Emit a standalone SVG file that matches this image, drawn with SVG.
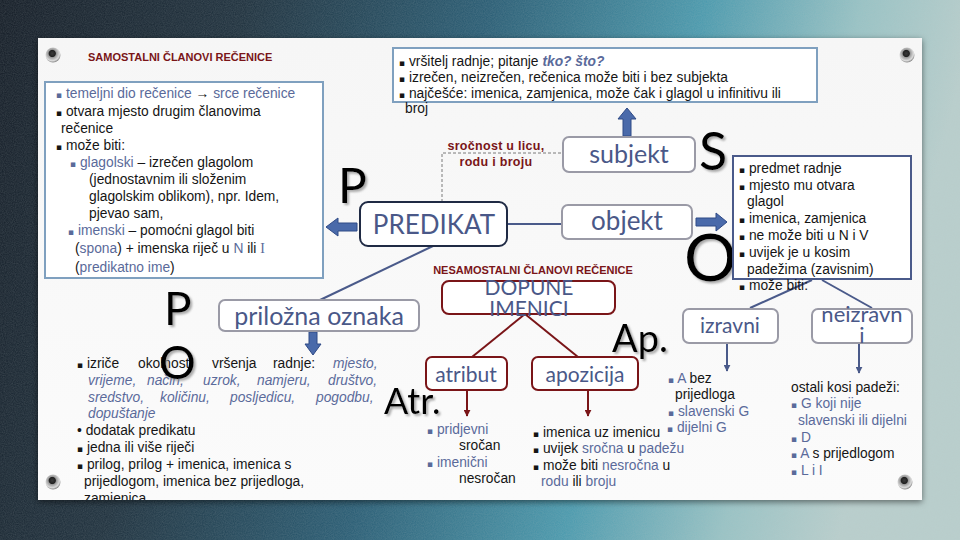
<svg xmlns="http://www.w3.org/2000/svg" width="960" height="540" viewBox="0 0 960 540">
<defs>
<linearGradient id="bg" x1="0" y1="0" x2="1" y2="0.15">
<stop offset="0" stop-color="#121a24"/>
<stop offset="0.25" stop-color="#1d2f3c"/>
<stop offset="0.5" stop-color="#285c74"/>
<stop offset="0.72" stop-color="#4a9aae"/>
<stop offset="0.88" stop-color="#98c3c5"/>
<stop offset="1" stop-color="#b9cfcd"/>
</linearGradient>
<linearGradient id="panel" x1="0" y1="0" x2="0" y2="1">
<stop offset="0" stop-color="#f6f6f6"/>
<stop offset="1" stop-color="#fbfbfb"/>
</linearGradient>
<radialGradient id="pin" cx="0.45" cy="0.4" r="0.6">
<stop offset="0" stop-color="#3a3a3a"/>
<stop offset="0.35" stop-color="#222"/>
<stop offset="0.45" stop-color="#9a9a9a"/>
<stop offset="0.8" stop-color="#dcdcdc"/>
<stop offset="1" stop-color="#888"/>
</radialGradient>
<filter id="tex" x="0" y="0" width="100%" height="100%">
<feTurbulence type="fractalNoise" baseFrequency="0.9" numOctaves="2" seed="3"/>
<feColorMatrix type="matrix" values="0 0 0 0 0.5  0 0 0 0 0.55  0 0 0 0 0.55  0 0 0 0.35 0"/>
</filter>
<filter id="sh" x="-10%" y="-10%" width="130%" height="130%">
<feDropShadow dx="2" dy="2" stdDeviation="1" flood-color="#888" flood-opacity="0.7"/>
</filter>
<filter id="psh" x="-5%" y="-5%" width="110%" height="110%">
<feDropShadow dx="0" dy="2" stdDeviation="3" flood-color="#000" flood-opacity="0.5"/>
</filter>
<clipPath id="pc"><rect x="38" y="38" width="884" height="462"/></clipPath>
<marker id="ab" viewBox="0 0 10 10" refX="9" refY="5" markerWidth="7" markerHeight="7" markerUnits="userSpaceOnUse" orient="auto"><path d="M0,0 L10,5 L0,10 z" fill="#4a5a8a"/></marker>
<marker id="ar" viewBox="0 0 10 10" refX="9" refY="5" markerWidth="7" markerHeight="7" markerUnits="userSpaceOnUse" orient="auto"><path d="M0,0 L10,5 L0,10 z" fill="#7a1518"/></marker>
<style>
text { font-family: Lato, "Liberation Sans", "DejaVu Sans", sans-serif; }
.t, .s { font-family: "Liberation Sans", Arial, "DejaVu Sans", sans-serif; font-size: 13.8px; fill: #151515; }
.bu { font-size: 9px; font-family: "DejaVu Sans", sans-serif; }
.bl { fill: #5a6a9a; }
.it { font-style: italic; fill: #5a6a9a; }
.hd { font-family: "Liberation Sans", Arial, sans-serif; font-weight: bold; font-size: 11px; fill: #7a1518; }
.sr { font-family: "Liberation Sans", Arial, sans-serif; font-weight: bold; font-size: 12.5px; letter-spacing: 0.3px; fill: #7a1518; }
.lb { fill: #4a5888; text-anchor: middle; }
.big { fill: #000; filter: url(#sh); }
.bx { fill: #fff; stroke: #9a9aa6; stroke-width: 2; }
.bxr { fill: #fff; stroke: #7a1518; stroke-width: 2; }
.ba { fill: #4a6aaa; stroke: #2f4a86; stroke-width: 1; }
.ln { stroke: #4a5a8a; stroke-width: 2; fill: none; }
.lr { stroke: #7a1518; stroke-width: 2; fill: none; }
</style>
</defs>

<rect width="960" height="540" fill="url(#bg)"/>
<rect width="960" height="540" filter="url(#tex)" opacity="0.6"/>
<rect x="38" y="38" width="884" height="462" fill="url(#panel)" filter="url(#psh)"/>
<g id="pins">
<circle cx="53" cy="55" r="7.5" fill="url(#pin)"/>
<circle cx="907" cy="55" r="7.5" fill="url(#pin)"/>
<circle cx="53" cy="482" r="7.5" fill="url(#pin)"/>
<circle cx="905" cy="482" r="7.5" fill="url(#pin)"/>
</g>

<text class="hd" x="88" y="61">SAMOSTALNI ČLANOVI REČENICE</text>
<text class="hd" x="533" y="274" text-anchor="middle">NESAMOSTALNI ČLANOVI REČENICE</text>

<g id="connectors">
<path d="M442,202 V153 H563" stroke="#7a7a7a" stroke-width="1" stroke-dasharray="3,2" fill="none"/>
<line class="ln" x1="507" y1="224" x2="562" y2="224"/>
<line class="ln" x1="433" y1="246" x2="320" y2="300" stroke-width="1.5"/>
<line class="ln" x1="812" y1="280" x2="750" y2="308"/>
<line class="ln" x1="822" y1="280" x2="872" y2="308"/>
<line class="ln" x1="727" y1="343" x2="727" y2="371" marker-end="url(#ab)"/>
<line class="ln" x1="859" y1="343" x2="859" y2="373" marker-end="url(#ab)"/>
<line class="lr" x1="525" y1="314" x2="472" y2="357"/>
<line class="lr" x1="525" y1="314" x2="578" y2="357"/>
<line class="lr" x1="467" y1="390" x2="467" y2="416" marker-end="url(#ar)"/>
<line class="lr" x1="588" y1="390" x2="588" y2="416" marker-end="url(#ar)"/>
<polygon class="ba" points="326,227 338,218 338,223 357,223 357,231 338,231 338,236"/>
<polygon class="ba" points="627,108 618,119 623,119 623,136 631,136 631,119 636,119"/>
<polygon class="ba" points="696,218 716,218 716,213 727,222 716,231 716,226 696,226"/>
<polygon class="ba" points="309,332 317,332 317,344 321,344 313,355 305,344 309,344"/>
</g>

<g id="predikat-info">
<rect x="45" y="82" width="278" height="196" fill="#fff" stroke="#7fa0bf" stroke-width="2"/>
<text class="t" x="56" y="98"><tspan class="bu bl">▪</tspan><tspan class="bl"> temeljni dio rečenice </tspan>→<tspan class="bl"> srce rečenice</tspan></text>
<text class="t" x="56" y="116"><tspan class="bu">▪</tspan> otvara mjesto drugim članovima</text>
<text class="t" x="61" y="133">rečenice</text>
<text class="t" x="56" y="150"><tspan class="bu">▪</tspan> može biti:</text>
<text class="t" x="70" y="167"><tspan class="bu bl">▪</tspan><tspan class="bl"> glagolski</tspan> – izrečen glagolom</text>
<text class="t" x="89" y="184">(jednostavnim ili složenim</text>
<text class="t" x="89" y="201">glagolskim oblikom), npr. Idem,</text>
<text class="t" x="89" y="218">pjevao sam,</text>
<text class="t" x="68" y="235"><tspan class="bu bl">▪</tspan><tspan class="bl"> imenski</tspan> – pomoćni glagol biti</text>
<text class="t" x="75" y="253">(<tspan class="bl">spona</tspan>) + imenska riječ u <tspan class="bl">N</tspan> ili <tspan class="bl" font-family="Liberation Serif, serif">I</tspan></text>
<text class="t" x="75" y="272">(<tspan class="bl">predikatno  ime</tspan>)</text>
</g>

<g id="subjekt-info">
<rect x="393" y="48" width="424" height="54" fill="#fff" stroke="#7fa0bf" stroke-width="2"/>
<text class="s" x="399" y="66"><tspan class="bu">▪</tspan> vršitelj radnje; pitanje <tspan class="bl" font-weight="bold" font-style="italic">tko? što?</tspan></text>
<text class="s" x="399" y="82"><tspan class="bu">▪</tspan> izrečen, neizrečen, rečenica može biti i bez subjekta</text>
<text class="s" x="399" y="98"><tspan class="bu">▪</tspan> najčešće: imenica, zamjenica, može čak i glagol u infinitivu ili</text>
<text class="s" x="405" y="113">broj</text>
</g>

<g id="predikat">
<rect x="360" y="202" width="147" height="44" rx="8" fill="#fff" stroke="#1f2a44" stroke-width="2"/>
<text class="lb" x="434" y="234" font-size="26">PREDIKAT</text>
<text class="big" x="338" y="203" font-size="48">P</text>
</g>
<g id="srocnost">
<text class="sr" x="496" y="150" text-anchor="middle">sročnost u licu,</text>
<text class="sr" x="496" y="166" text-anchor="middle">rodu i broju</text>
</g>

<g id="subjekt">
<rect class="bx" x="563" y="137" width="132" height="35" rx="6"/>
<text class="lb" x="629" y="163" font-size="25">subjekt</text>
<text class="big" x="699" y="170" font-size="52">S</text>
</g>

<g id="objekt">
<rect class="bx" x="562" y="205" width="130" height="34" rx="6"/>
<text class="lb" x="627" y="230" font-size="26">objekt</text>
<text class="big" x="684" y="281" font-size="66">O</text>
</g>

<g id="objekt-info">
<rect x="733" y="156" width="178" height="123" fill="#fff" stroke="#4a5a8a" stroke-width="2"/>
<text class="t" x="739" y="173"><tspan class="bu">▪</tspan> predmet  radnje</text>
<text class="t" x="739" y="190"><tspan class="bu">▪</tspan> mjesto mu otvara</text>
<text class="t" x="747" y="206">glagol</text>
<text class="t" x="739" y="223"><tspan class="bu">▪</tspan> imenica, zamjenica</text>
<text class="t" x="739" y="240"><tspan class="bu">▪</tspan> ne može biti u N i V</text>
<text class="t" x="739" y="257"><tspan class="bu">▪</tspan> uvijek je u kosim</text>
<text class="t" x="747" y="274">padežima (zavisnim)</text>
<text class="t" x="739" y="290"><tspan class="bu">▪</tspan> može biti:</text>
</g>

<g id="izravni">
<rect class="bx" x="683" y="309" width="95" height="34" rx="6"/>
<text class="lb" x="730" y="333" font-size="21">izravni</text>
</g>
<g id="neizravni">
<rect class="bx" x="812" y="309" width="100" height="34" rx="6"/>
<text class="lb" x="862" y="322" font-size="22">neizravn</text>
<text class="lb" x="862" y="343" font-size="22">i</text>
</g>
<g id="izravni-info">
<text class="t" x="668" y="383"><tspan class="bu bl">▪</tspan><tspan class="bl"> A</tspan> bez</text>
<text class="t" x="675" y="399">prijedloga</text>
<text class="t bl" x="668" y="416"><tspan class="bu">▪</tspan> slavenski  G</text>
<text class="t bl" x="667" y="432"><tspan class="bu">▪</tspan> dijelni G</text>
</g>
<g id="neizravni-info">
<text class="t" x="791" y="392">ostali kosi padeži:</text>
<text class="t bl" x="791" y="408"><tspan class="bu">▪</tspan> G koji nije</text>
<text class="t bl" x="798" y="425">slavenski ili dijelni</text>
<text class="t bl" x="791" y="442"><tspan class="bu">▪</tspan>  D</text>
<text class="t" x="791" y="458"><tspan class="bu bl">▪</tspan><tspan class="bl">  A</tspan> s prijedlogom</text>
<text class="t bl" x="791" y="475"><tspan class="bu">▪</tspan>  L i I</text>
</g>

<g id="dopune">
<rect class="bxr" x="442" y="281" width="173" height="33" rx="7"/>
<text class="lb" x="529" y="295" font-size="21">DOPUNE</text>
<text class="lb" x="529" y="316" font-size="21">IMENICI</text>
</g>
<g id="atribut">
<rect class="bxr" x="426" y="357" width="81" height="33" rx="6"/>
<text class="lb" x="466" y="382" font-size="21">atribut</text>
<text class="big" x="384" y="414" font-size="36">Atr.</text>
</g>
<g id="apozicija">
<rect class="bxr" x="532" y="357" width="106" height="33" rx="6"/>
<text class="lb" x="585" y="382" font-size="21">apozicija</text>
<text class="big" x="612" y="352" font-size="38">Ap.</text>
</g>
<g id="atribut-info">
<text class="t bl" x="427" y="434"><tspan class="bu">▪</tspan> pridjevni</text>
<text class="t" x="459" y="450">sročan</text>
<text class="t bl" x="427" y="467"><tspan class="bu">▪</tspan> imenični</text>
<text class="t" x="459" y="483">nesročan</text>
</g>
<g id="apozicija-info">
<text class="t" x="533" y="437"><tspan class="bu">▪</tspan> imenica uz imenicu</text>
<text class="t" x="533" y="453"><tspan class="bu">▪</tspan> uvijek <tspan class="bl">sročna</tspan> u <tspan class="bl">padežu</tspan></text>
<text class="t" x="533" y="470"><tspan class="bu">▪</tspan> može biti <tspan class="bl">nesročna</tspan> u</text>
<text class="t" x="541" y="486"><tspan class="bl">rodu</tspan> ili <tspan class="bl">broju</tspan></text>
</g>

<g id="prilozna">
<rect class="bx" x="219" y="300" width="200" height="31" rx="6"/>
<text class="lb" x="319" y="325" font-size="25">priložna oznaka</text>
<text class="big" x="164" y="325" font-size="46">P</text>
</g>
<g id="prilozna-info" clip-path="url(#pc)">
<text class="s" x="77" y="368"><tspan class="bu">▪</tspan> izriče</text>
<text class="s" x="138" y="368">okolnosti</text>
<text class="s" x="212" y="368">vršenja</text>
<text class="s" x="273" y="368">radnje:</text>
<text class="s it" x="333" y="368">mjesto,</text>
<text class="s it" x="88" y="385">vrijeme,</text>
<text class="s it" x="147" y="385">način,</text>
<text class="s it" x="203" y="385">uzrok,</text>
<text class="s it" x="257" y="385">namjeru,</text>
<text class="s it" x="328" y="385">društvo,</text>
<text class="s it" x="88" y="402">sredstvo,</text>
<text class="s it" x="160" y="402">količinu,</text>
<text class="s it" x="230" y="402">posljedicu,</text>
<text class="s it" x="316" y="402">pogodbu,</text>
<text class="s it" x="88" y="418">dopuštanje</text>
<text class="s" x="77" y="435">• dodatak predikatu</text>
<text class="s" x="77" y="452"><tspan class="bu">▪</tspan> jedna ili više riječi</text>
<text class="s" x="77" y="469"><tspan class="bu">▪</tspan> prilog, prilog + imenica, imenica s</text>
<text class="s" x="84" y="486">prijedlogom, imenica bez prijedloga,</text>
<text class="s" x="84" y="503">zamjenica</text>
<text class="big" x="159" y="379" font-size="46">O</text>
</g>
</svg>
